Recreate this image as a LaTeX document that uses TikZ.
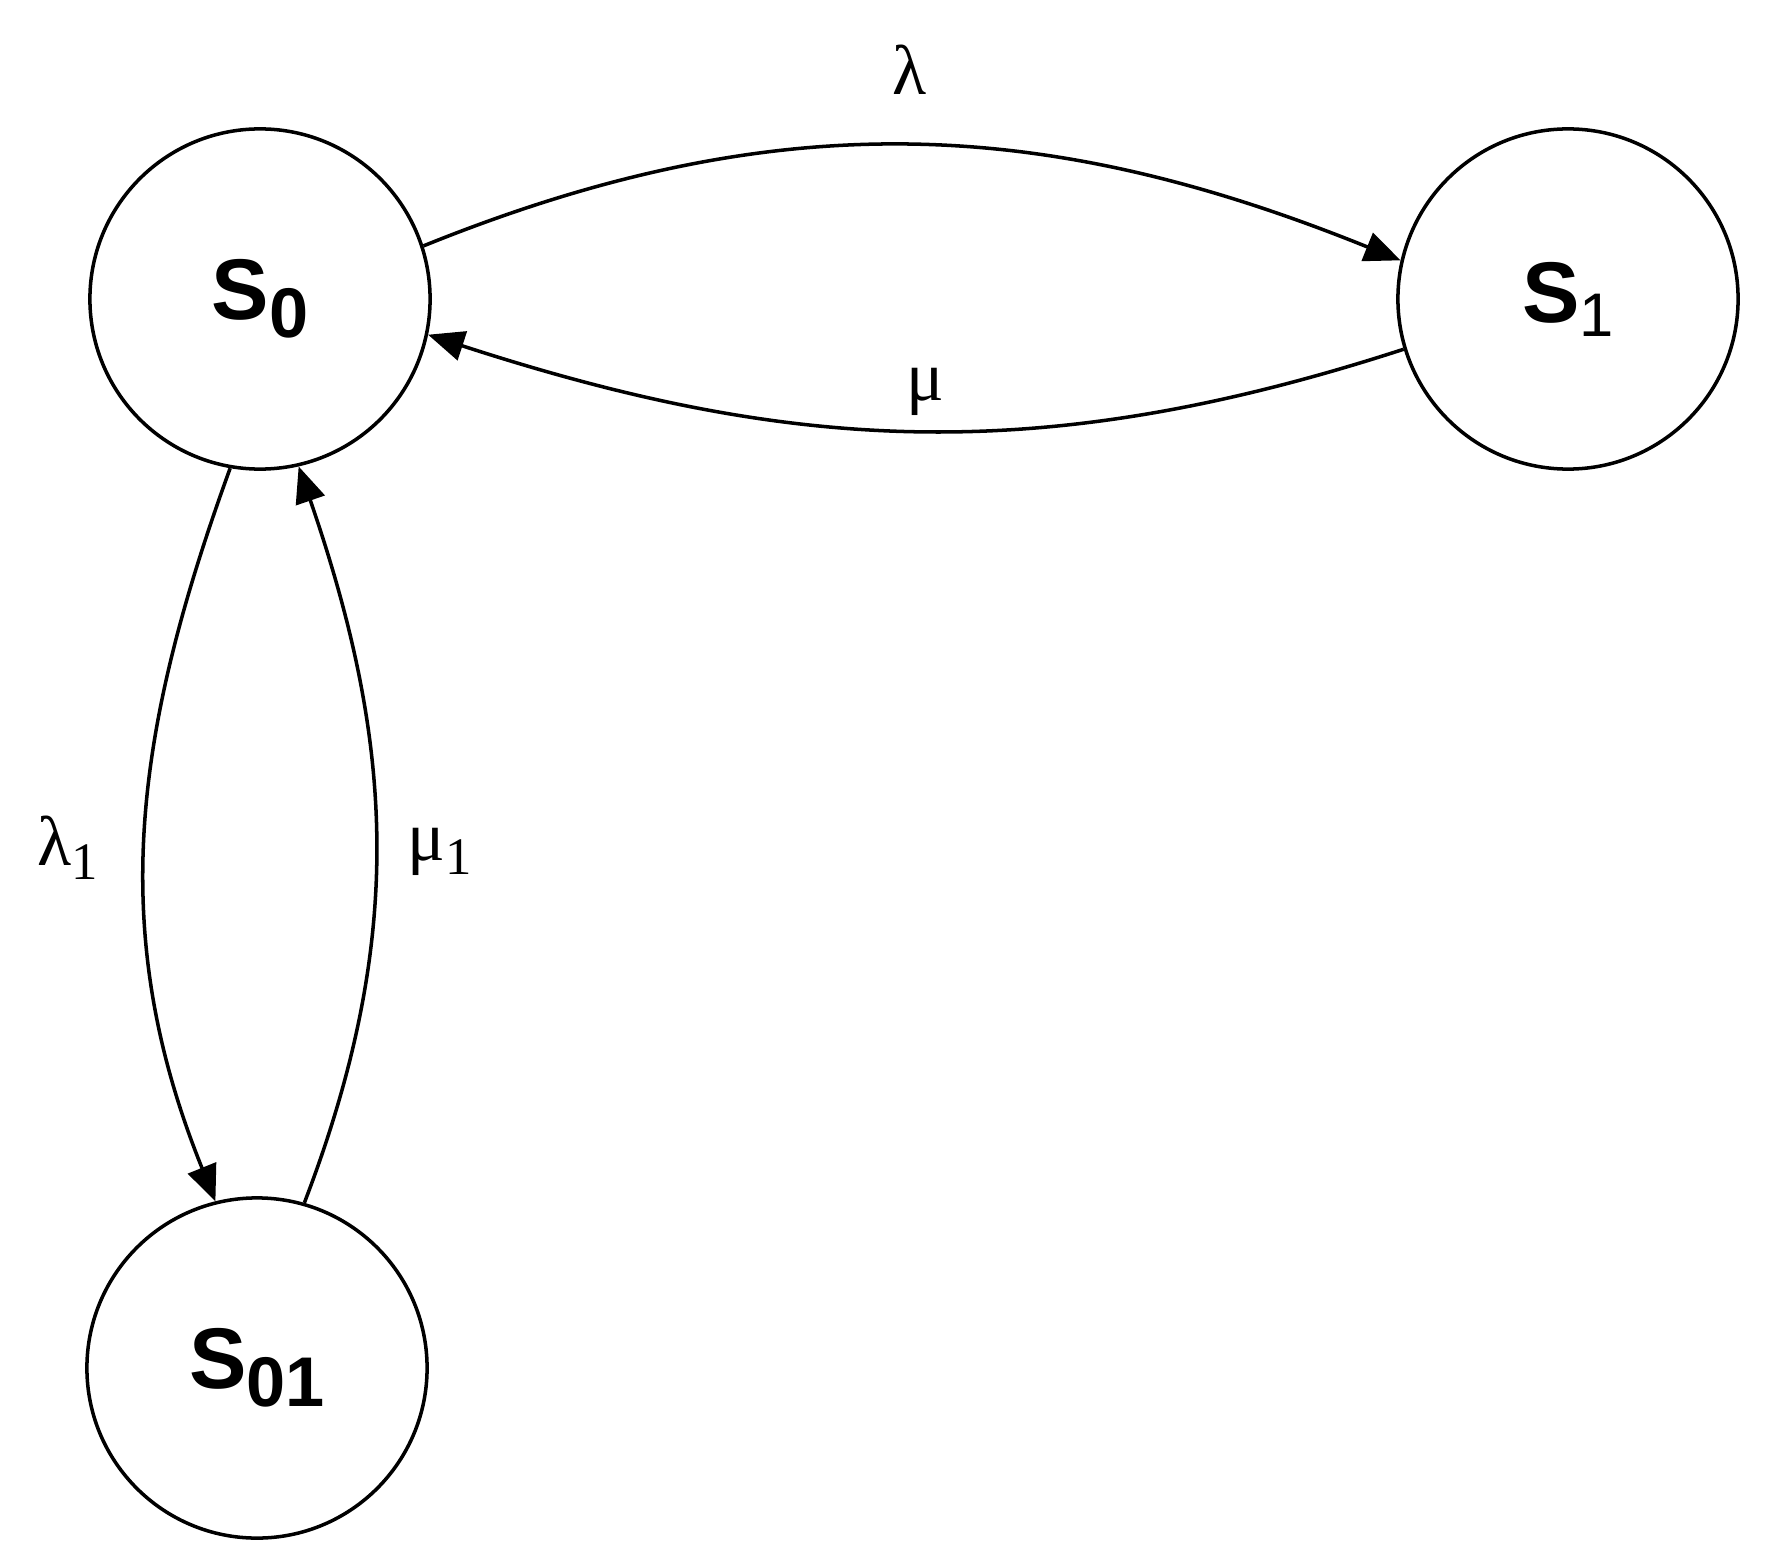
\documentclass[tikz,border=0pt]{standalone}
\usepackage{fontspec}
\setmainfont{Liberation Serif}
\newfontfamily\statefont{Liberation Sans}
\usetikzlibrary{arrows.meta}

\newcommand{\stsub}[1]{\raisebox{-5pt}{\fontsize{20}{24}\selectfont #1}}
\newcommand{\ratesub}[1]{\raisebox{-4pt}{\fontsize{15}{18}\selectfont #1}}

\tikzset{
  state/.style={circle, draw, line width=1pt, minimum size=3.4cm, inner sep=0pt,
    font=\statefont\fontsize{24.5}{29}\selectfont},
  trans/.style={line width=1pt, -{Triangle[length=0.36cm,width=0.3cm]}},
  rate/.style={font=\fontsize{20}{24}\selectfont, inner sep=0pt}
}

\begin{document}
\begin{tikzpicture}[x=0.01cm,y=0.01cm]

\useasboundingbox (0,0) rectangle (1785,-1567);

% states
\node[state] (s0) at (260,-299) {\bfseries S\stsub{0}};
\node[state] (s1) at (1568,-299) {\bfseries S\mdseries\raisebox{-4pt}{\fontsize{17.5}{21}\selectfont 1}};
\node[state] (s01) at (257,-1368) {\bfseries S\stsub{01}};

% transitions
\draw[trans] (s0.18) to[out=22,in=158] (s1.167);
\draw[trans] (s1.197) to[out=198,in=-18] (s0.-12);
\draw[trans] (s0.260) to[out=250,in=112] (s01.104);
\draw[trans] (s01.74) to[out=69,in=-71] (s0.283);

% rates
\node[rate, anchor=base] (lam) at (910,-95) {λ};
\node[rate, anchor=base] (mu) at (925,-400) {μ};
\node[rate, anchor=base west] (lam1) at (37,-865) {λ\ratesub{1}};
\node[rate, anchor=base west] (mu1) at (407,-860) {μ\ratesub{1}};

\end{tikzpicture}
\end{document}
